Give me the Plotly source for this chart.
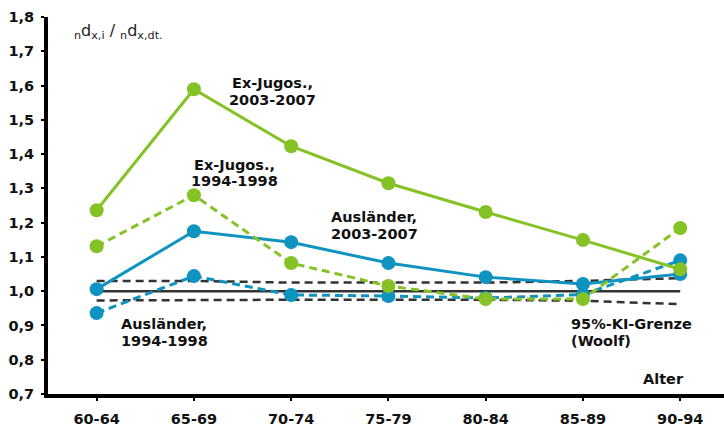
import plotly.graph_objects as go

categories = ["60-64", "65-69", "70-74", "75-79", "80-84", "85-89", "90-94"]
exjugos_2003 = [1.236, 1.589, 1.423, 1.315, 1.231, 1.149, 1.064]
exjugos_1994 = [1.131, 1.280, 1.082, 1.015, 0.977, 0.977, 1.184]
auslaender_2003 = [1.006, 1.175, 1.143, 1.082, 1.041, 1.021, 1.050]
auslaender_1994 = [0.936, 1.044, 0.989, 0.986, 0.980, 0.990, 1.090]
ci_upper = [1.030, 1.030, 1.025, 1.025, 1.025, 1.030, 1.038]
ci_lower = [0.973, 0.975, 0.975, 0.975, 0.975, 0.972, 0.962]
reference = [1.0] * 7
y_ticks = [0.7, 0.8, 0.9, 1.0, 1.1, 1.2, 1.3, 1.4, 1.5, 1.6, 1.7, 1.8]

GREEN = "#84c225"
BLUE = "#0f93c0"
GREY = "#333333"
FONT = "DejaVu Sans"

x = list(range(len(categories)))
fig = go.Figure()

fig.add_trace(go.Scatter(x=x, y=reference, mode="lines", line=dict(color=GREY, width=2.5)))
fig.add_trace(go.Scatter(x=x, y=ci_upper, mode="lines", line=dict(color=GREY, width=2.5, dash="8px,5px")))
fig.add_trace(go.Scatter(x=x, y=ci_lower, mode="lines", line=dict(color=GREY, width=2.5, dash="8px,5px")))

fig.add_trace(go.Scatter(x=x, y=auslaender_1994, mode="lines+markers",
                         line=dict(color=BLUE, width=3, dash="8px,5px"),
                         marker=dict(color=BLUE, size=14)))
fig.add_trace(go.Scatter(x=x, y=auslaender_2003, mode="lines+markers",
                         line=dict(color=BLUE, width=3),
                         marker=dict(color=BLUE, size=14)))
fig.add_trace(go.Scatter(x=x, y=exjugos_1994, mode="lines+markers",
                         line=dict(color=GREEN, width=3, dash="8px,5px"),
                         marker=dict(color=GREEN, size=14)))
fig.add_trace(go.Scatter(x=x, y=exjugos_2003, mode="lines+markers",
                         line=dict(color=GREEN, width=3),
                         marker=dict(color=GREEN, size=14)))

L, R, T, B = 48, 0, 17, 32
W, H = 724, 426
pw, ph = W - L - R, H - T - B


def px(xp, yp):
    return (xp - L) / pw, (H - B - yp) / ph


def label(lines, xp, yp, anchor="center", size=14.5):
    for i, text in enumerate(lines):
        ax, ay = px(xp, yp + i * 16.5)
        fig.add_annotation(text=text, x=ax, y=ay, xref="paper", yref="paper",
                           xanchor=anchor, yanchor="middle", showarrow=False,
                           font=dict(family=FONT, size=size, color="#111111", weight="bold"))


label(["Ex-Jugos.,", "2003-2007"], 272, 83)
label(["Ex-Jugos.,", "1994-1998"], 234, 165)
label(["Ausländer,", "2003-2007"], 374, 217)
label(["Ausländer,", "1994-1998"], 119, 324, anchor="left")
label(["95%-KI-Grenze", "(Woolf)"], 569, 324, anchor="left")
label(["Alter"], 641, 379, anchor="left")

ax_, ay_ = px(72, 31)
fig.add_annotation(text="<sub>n</sub>d<sub>x,i</sub> / <sub>n</sub>d<sub>x,dt.</sub>",
                   x=ax_, y=ay_, xref="paper", yref="paper", xanchor="left", yanchor="middle",
                   showarrow=False, font=dict(family=FONT, size=16, color="#222222"))

fig.update_layout(
    width=W, height=H,
    margin=dict(l=L, r=R, t=T, b=B, autoexpand=False),
    plot_bgcolor="white", paper_bgcolor="white",
    showlegend=False,
    separators=",.",
    font=dict(family=FONT, color="#111111"),
)
fig.update_xaxes(
    range=[-0.5, 6.45], tickmode="array", tickvals=x, ticktext=categories,
    showgrid=False, zeroline=False, showline=True, linecolor="black", linewidth=4,
    ticks="outside", tickson="boundaries", ticklen=3, tickwidth=2, tickcolor="black",
    ticklabelstandoff=6, automargin=False,
    tickfont=dict(family=FONT, size=14.5, weight="bold", color="#111111"),
)
fig.update_yaxes(
    range=[0.7, 1.8], tickmode="array", tickvals=y_ticks, tickformat=".1f",
    showgrid=False, zeroline=False, showline=True, linecolor="black", linewidth=4,
    ticks="outside", ticklen=3, tickwidth=2, tickcolor="black",
    ticklabelstandoff=4, automargin=False,
    tickfont=dict(family=FONT, size=14.5, weight="bold", color="#111111"),
)

fig.write_html("out.html", config={"displayModeBar": False},
               post_script="document.body.style.margin='0';document.body.style.overflow='hidden';")
